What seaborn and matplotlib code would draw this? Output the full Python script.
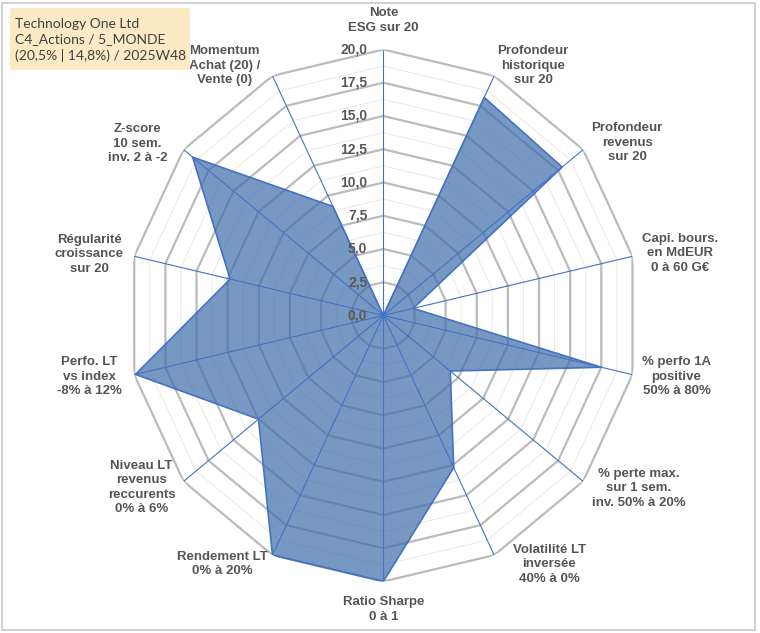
import numpy as np
import matplotlib.pyplot as plt
import seaborn as sns
from matplotlib.patches import Rectangle

# Données : critères et notes sur 20
criteres = [
    'Note\nESG sur 20',
    'Profondeur\nhistorique\nsur 20',
    'Profondeur\nrevenus\nsur 20',
    'Capi. bours.\nen MdEUR\n0 à 60 G€',
    '% perfo 1A\npositive\n50% à 80%',
    '% perte max.\nsur 1 sem.\ninv. 50% à 20%',
    'Volatilité LT\ninversée\n40% à 0%',
    'Ratio Sharpe\n0 à 1',
    'Rendement LT\n0% à 20%',
    'Niveau LT\nrevenus\nreccurents\n0% à 6%',
    'Perfo. LT\nvs index\n-8% à 12%',
    'Régularité\ncroissance\nsur 20',
    'Z-score\n10 sem.\ninv. 2 à -2',
    'Momentum\nAchat (20) /\nVente (0)',
]
notes = [0, 18.2, 17.9, 2.4, 17.5, 6.7, 12.7, 20, 20, 12.5, 19.9, 12.3, 19.1, 9.1]
graduations = [0, 2.5, 5, 7.5, 10, 12.5, 15, 17.5, 20]
titre = 'Technology One Ltd\nC4_Actions / 5_MONDE\n(20,5% | 14,8%) / 2025W48'

# décalage (pixels) des libellés par rapport au sommet de chaque axe
decalages = [(0, 29), (39, 10), (44, 7), (48, 3), (44, -2), (56, -7), (55, -9),
             (0, -28), (-50, -9), (-42, -6), (-45, -2), (-45, 2), (-46, 6), (-48, 10)]

sns.set_theme(style='white')
plt.rcParams['font.family'] = ['Liberation Sans', 'DejaVu Sans']

n = len(criteres)
angles = np.linspace(0, 2 * np.pi, n, endpoint=False)
angles_f = np.append(angles, angles[0])
notes_f = notes + [notes[0]]

fig = plt.figure(figsize=(7.6, 6.33), dpi=100)
ax = fig.add_axes([0.1682, 0.0814, 0.6724, 0.8404], projection='polar')
ax.set_aspect('auto')
ax.set_theta_zero_location('N')
ax.set_theta_direction(-1)
ax.set_ylim(0, 20)
ax.grid(False)
ax.spines['polar'].set_visible(False)
ax.set_xticks([])
ax.set_yticks([])
ax.patch.set_alpha(0)

# grille polygonale
for g in np.arange(1.25, 20, 2.5):
    ax.plot(angles_f, [g] * (n + 1), color='#EBEBEB', lw=0.8, zorder=1)
for g in graduations[1:]:
    ax.plot(angles_f, [g] * (n + 1), color='#BBBBBB', lw=1.6, zorder=1)

# surface
ax.fill(angles_f, notes_f, color='#3D6DAA', alpha=0.7, lw=0, zorder=2)
ax.plot(angles_f, notes_f, color='#4472C4', lw=1.2, zorder=3)

# rayons
ax.vlines(angles, 0, 20, color='#4472C4', lw=0.8, zorder=4)

# graduations
for g in graduations:
    ax.annotate(f'{g:.1f}'.replace('.', ','), xy=(0, g), xytext=(-16, 0),
                textcoords='offset pixels', ha='right', va='center',
                fontsize=10, fontweight='bold', color='#595959', zorder=5)

# libellés des axes
for a, lab, (dx, dy) in zip(angles, criteres, decalages):
    ax.annotate(lab, xy=(a, 20), xytext=(dx, dy), textcoords='offset pixels',
                ha='center', va='center', fontsize=9.5, fontweight='bold',
                color='#555555', linespacing=1.28, annotation_clip=False)

# cadre et encart titre
fig.patches.append(Rectangle((0.003, 0.005), 0.99, 0.99, transform=fig.transFigure,
                             fill=False, ec='#C8C8C8', lw=1.2))
fig.patches.append(Rectangle((10 / 760, 1 - 70 / 633), 180 / 760, 62 / 633,
                             transform=fig.transFigure, fc='#FDE9C4', ec='none'))
fig.text(15 / 760, 1 - 40 / 633, titre, ha='left', va='center', fontsize=10,
         family=['Lato', 'DejaVu Sans'], color='#404040', linespacing=1.35)

fig.savefig('out.png', dpi=100)
